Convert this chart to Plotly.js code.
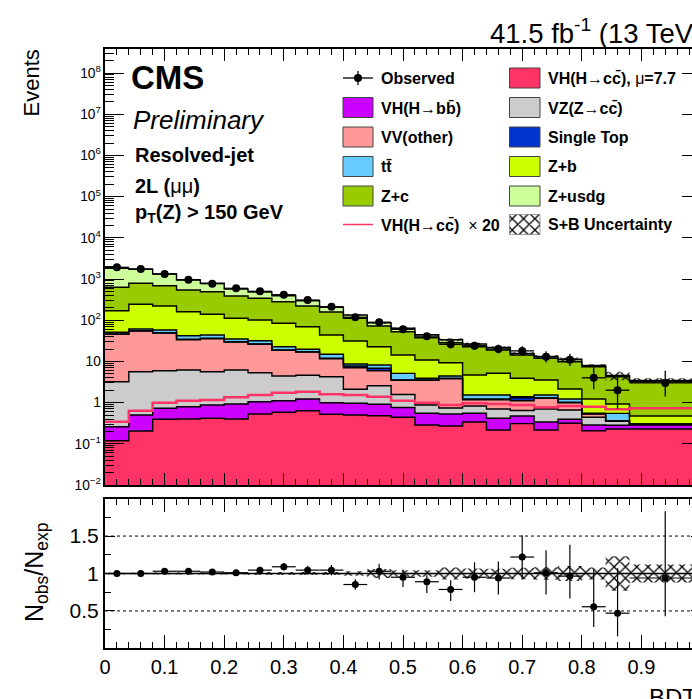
<!DOCTYPE html>
<html><head><meta charset="utf-8">
<script src="https://cdn.plot.ly/plotly-3.0.1.min.js"></script>
<style>html,body{margin:0;padding:0;overflow:hidden;background:#fff;width:692px;height:699px}
#chart{width:720px;height:699px}</style>
</head><body><div id="chart"></div>
<script>
// ---------------- data ----------------
const binEdges = [0,0.04,0.08,0.12,0.16,0.20,0.24,0.28,0.32,0.36,0.40,0.44,0.48,0.52,0.56,0.60,0.64,0.68,0.72,0.76,0.80,0.84,0.88,1.00];
const VHcc   = [0.119,0.205,0.393,0.400,0.416,0.400,0.529,0.582,0.636,0.520,0.500,0.481,0.440,0.286,0.270,0.338,0.216,0.308,0.216,0.315,0.208,0.229,0.229];
const VHbb   = [0.141,0.296,0.334,0.395,0.458,0.525,0.522,0.530,0.587,0.475,0.462,0.428,0.321,0.264,0.259,0.212,0.200,0.166,0.122,0.078,0.078,0.052,0.057];
const VZcc   = [2.96,5.12,5.22,5.39,4.75,5.26,4.27,3.31,3.38,3.26,1.14,1.66,0.812,0.324,0.210,0.277,0.283,0.170,0.361,0.268,0.154,0.070,0.011];
const VVother= [42.3,49.1,42.95,27.45,29.94,23.4,20.7,14.18,12.31,7.38,4.93,3.38,1.905,2.604,3.06,0.349,0.477,0.469,0.573,0.334,0.086,0.008,0.002];
const singleTop=[0.8,0.9,0.8,0.76,0.81,0.5,0.45,0.31,0.28,0.26,0.70,0.85,0.058,0.058,0.086,0.047,0.047,0.203,0.021,0.022,0.009,0.004,0.002];
const ttbar  = [4.5,5.5,8.1,7.67,7.37,4.89,5.35,3.83,2.48,2.98,0.92,1.38,1.60,0.353,0.53,0.306,0.306,0.076,0.236,0.206,0.015,0.186,0.002];
const Zb     = [119.2,182.0,163.3,118.7,95.4,76.2,69.3,61.4,49.9,28.87,22.6,14.56,9.16,6.92,4.88,3.147,3.61,2.50,2.007,0.915,0.673,0.375,0.17];
const Zc     = [459,543,467,380,352,275,239,197,151.5,114.4,79.9,49.6,38.3,26.8,19.14,18.06,13.77,10.41,8.35,7.69,6.22,3.33,2.74];
const Zusdg  = [1189,933,634,405,295,185,143,112,76.3,47.5,22.5,14.66,11.0,6.88,5.19,3.71,2.84,1.25,1.26,1.42,0.51,0.30,0.26];
const VHccX20= [0.344,0.636,0.995,1.112,1.157,1.345,1.529,1.739,1.839,1.590,1.529,1.391,1.112,0.995,0.874,0.962,0.925,0.874,0.769,0.827,0.795,0.688,0.727];
const observed=[1923,1748,1322,962,769,595,503,416,309,213,118,89,60,41,26,24,20,18,13,11,4,2,3];
const obsErrUp=[44,42,37,32,28,25,23,21,18,15,11,9.9,8.8,7.5,6.2,6.0,5.6,5.3,4.7,4.4,3.2,2.6,2.9];
const obsErrDn=[44,42,36,31,28,24,22,20,18,15,11,9.4,7.7,6.4,5.1,4.9,4.4,4.2,3.6,3.3,1.9,1.3,1.6];
const ratio   =[1.00,1.00,1.03,1.03,1.02,1.01,1.045,1.09,1.045,1.045,0.853,1.03,0.95,0.89,0.787,0.95,0.94,1.22,1.01,0.965,0.556,0.47,0.94];
const ratioErrUp=[0.02,0.025,0.03,0.035,0.035,0.04,0.045,0.05,0.06,0.07,0.07,0.10,0.10,0.085,0.124,0.20,0.22,0.29,0.30,0.42,0.50,0.60,0.89];
const ratioErrDn=[0.02,0.025,0.03,0.035,0.035,0.04,0.045,0.05,0.06,0.07,0.07,0.11,0.13,0.15,0.155,0.20,0.22,0.30,0.29,0.30,0.27,0.31,0.51];
const relUnc  =[0.01,0.01,0.015,0.015,0.015,0.015,0.02,0.02,0.02,0.02,0.03,0.06,0.045,0.045,0.08,0.067,0.065,0.078,0.085,0.10,0.08,0.23,0.12];
const xTickVals=[0,0.1,0.2,0.3,0.4,0.5,0.6,0.7,0.8,0.9];
const xTickText=['0','0.1','0.2','0.3','0.4','0.5','0.6','0.7','0.8','0.9'];

const compNames = ['VH(H→cc̄), μ=7.7','VH(H→bb̄)','VZ(Z→cc̄)','VV(other)','Single Top','tt̄','Z+b','Z+c','Z+usdg'];
const compData  = [VHcc,VHbb,VZcc,VVother,singleTop,ttbar,Zb,Zc,Zusdg];
const compColors= ['#FF3366','#CC00FF','#CCCCCC','#FF9999','#0033CC','#66CCFF','#CCFF00','#99CC00','#CCFF99'];

// ---------------- geometry ----------------
const W=720,H=699,ML=105,MR=19,MT=49,MB=51;
const PW=W-ML-MR, PH=H-MT-MB;
const px = x => (x-ML)/PW;
const py = y => (H-MB-y)/PH;
const FONT = 'Liberation Sans, Arial, Helvetica, sans-serif';
const HATCH = {shape:'x',fgcolor:'#000',bgcolor:'rgba(0,0,0,0)',size:8,solidity:0.3};

const step = a => a.concat([a[a.length-1]]);
const centers = binEdges.slice(0,-1).map((e,i)=>(e+binEdges[i+1])/2);
const halfW = binEdges.slice(0,-1).map((e,i)=>(binEdges[i+1]-e)/2);

const traces=[];
traces.push({x:binEdges,y:step(VHcc.map(()=>1e-4)),mode:'lines',line:{width:0,shape:'hv'},xaxis:'x',yaxis:'y',hoverinfo:'skip',showlegend:false});
let cum = VHcc.map(()=>0);
const cums=[];
compData.forEach((c,k)=>{
  cum = cum.map((v,i)=>v+c[i]);
  cums.push(cum.slice());
  traces.push({x:binEdges,y:step(cum),mode:'lines',line:{width:0,shape:'hv'},fill:'tonexty',fillcolor:compColors[k],
    name:compNames[k],xaxis:'x',yaxis:'y',hoverinfo:'skip',showlegend:false});
});
cums.forEach(c=>{
  traces.push({x:binEdges,y:step(c),mode:'lines',line:{width:1.4,color:'#000',shape:'hv'},xaxis:'x',yaxis:'y',hoverinfo:'skip',showlegend:false});
});
const total = cums[cums.length-1];
traces.push({x:binEdges,y:step(VHccX20),mode:'lines',line:{width:2.6,color:'#FF3366',shape:'hv'},xaxis:'x',yaxis:'y',showlegend:false});
traces.push({x:binEdges,y:step(total.map((t,i)=>t*(1-relUnc[i]))),mode:'lines',line:{width:0,shape:'hv'},xaxis:'x',yaxis:'y',showlegend:false,hoverinfo:'skip'});
traces.push({x:binEdges,y:step(total.map((t,i)=>t*(1+relUnc[i]))),mode:'lines',line:{width:0,shape:'hv'},fill:'tonexty',fillcolor:'rgba(0,0,0,0)',
  fillpattern:HATCH,xaxis:'x',yaxis:'y',showlegend:false,hoverinfo:'skip'});
traces.push({x:centers,y:observed,mode:'markers',marker:{size:8,color:'#000'},
  error_y:{type:'data',symmetric:false,array:obsErrUp,arrayminus:obsErrDn,thickness:1.3,width:0,color:'#000'},
  error_x:{type:'data',array:halfW,thickness:1.3,width:0,color:'#000'},xaxis:'x',yaxis:'y',showlegend:false});

traces.push({x:binEdges,y:step(relUnc.map(u=>1-u)),mode:'lines',line:{width:0,shape:'hv'},xaxis:'x2',yaxis:'y2',showlegend:false,hoverinfo:'skip'});
traces.push({x:binEdges,y:step(relUnc.map(u=>1+u)),mode:'lines',line:{width:0,shape:'hv'},fill:'tonexty',fillcolor:'rgba(0,0,0,0)',
  fillpattern:HATCH,xaxis:'x2',yaxis:'y2',showlegend:false,hoverinfo:'skip'});
traces.push({x:centers,y:ratio,mode:'markers',marker:{size:7,color:'#000'},
  error_y:{type:'data',symmetric:false,array:ratioErrUp,arrayminus:ratioErrDn,thickness:1.2,width:0,color:'#000'},
  error_x:{type:'data',array:halfW,thickness:1.2,width:0,color:'#000'},xaxis:'x2',yaxis:'y2',showlegend:false});

const lgRows=[78,107.5,137,166.5,196,224.5];
const c1x0=343,c1x1=373,c2x0=509.5,c2x1=540,boxH=20;
traces.push({x:[c2x0,c2x1,c2x1,c2x0,c2x0],y:[lgRows[5]-boxH/2,lgRows[5]-boxH/2,lgRows[5]+boxH/2,lgRows[5]+boxH/2,lgRows[5]-boxH/2],
  mode:'lines',line:{width:0.6,color:'#666'},fill:'toself',fillcolor:'rgba(0,0,0,0)',
  fillpattern:HATCH,xaxis:'x3',yaxis:'y3',showlegend:false,hoverinfo:'skip'});

// ---------------- legend & text ----------------
const shapes=[], ann=[];
const boxShape=(x0,x1,yc,color)=>shapes.push({type:'rect',xref:'paper',yref:'paper',x0:px(x0),x1:px(x1),y0:py(yc+boxH/2),y1:py(yc-boxH/2),
  fillcolor:color,line:{color:'#444',width:1}});
const lgText=(x,yc,t)=>ann.push({xref:'paper',yref:'paper',x:px(x),y:py(yc),xanchor:'left',yanchor:'middle',text:t,showarrow:false,
  font:{family:FONT,size:16,color:'#000'}});
shapes.push({type:'line',xref:'paper',yref:'paper',x0:px(c1x0),x1:px(c1x1),y0:py(lgRows[0]),y1:py(lgRows[0]),line:{color:'#000',width:1.3}});
shapes.push({type:'line',xref:'paper',yref:'paper',x0:px(358),x1:px(358),y0:py(lgRows[0]-7),y1:py(lgRows[0]+7),line:{color:'#000',width:1.3}});
shapes.push({type:'circle',xref:'paper',yref:'paper',x0:px(354),x1:px(362),y0:py(lgRows[0]+4),y1:py(lgRows[0]-4),fillcolor:'#000',line:{width:0}});
lgText(379,lgRows[0],'<b>Observed</b>');
boxShape(c1x0,c1x1,lgRows[1],compColors[1]); lgText(379,lgRows[1],'<b>VH(H→bb\u0304)</b>');
boxShape(c1x0,c1x1,lgRows[2],compColors[3]); lgText(379,lgRows[2],'<b>VV(other)</b>');
boxShape(c1x0,c1x1,lgRows[3],compColors[5]); lgText(379,lgRows[3],'<b>tt\u0304</b>');
boxShape(c1x0,c1x1,lgRows[4],compColors[7]); lgText(379,lgRows[4],'<b>Z+c</b>');
shapes.push({type:'line',xref:'paper',yref:'paper',x0:px(c1x0),x1:px(c1x1),y0:py(lgRows[5]),y1:py(lgRows[5]),line:{color:'#FF3366',width:1.5}});
lgText(379,lgRows[5],'<b>VH(H→cc\u0304)</b>  × <b>20</b>');
boxShape(c2x0,c2x1,lgRows[0],compColors[0]); lgText(546,lgRows[0],'<b>VH(H→cc\u0304), </b>μ<b>=7.7</b>');
boxShape(c2x0,c2x1,lgRows[1],compColors[2]); lgText(546,lgRows[1],'<b>VZ(Z→cc\u0304)</b>');
boxShape(c2x0,c2x1,lgRows[2],compColors[4]); lgText(546,lgRows[2],'<b>Single Top</b>');
boxShape(c2x0,c2x1,lgRows[3],compColors[6]); lgText(546,lgRows[3],'<b>Z+b</b>');
boxShape(c2x0,c2x1,lgRows[4],compColors[8]); lgText(546,lgRows[4],'<b>Z+usdg</b>');
lgText(546,lgRows[5],'<b>S+B Uncertainty</b>');

const txt=(x,y,t,size,anchor)=>ann.push({xref:'paper',yref:'paper',x:px(x),y:py(y),xanchor:anchor||'left',yanchor:'middle',
  text:t,showarrow:false,font:{family:FONT,size:size,color:'#000'}});
txt(129,77,'<b>CMS</b>',33);
txt(131,120,'<i>Preliminary</i>',26);
txt(133,155.5,'<b>Resolved-jet</b>',20);
txt(133,185.5,'<b>2L (</b>μμ<b>)</b>',20);
txt(133,213,'<b>p<sub>T</sub>(Z) &gt; 150 GeV</b>',20);
txt(488,32,'41.5 fb<sup>-1</sup> (13 TeV)',27.5);
ann.push({xref:'paper',yref:'paper',x:px(31),y:py(48),xanchor:'center',yanchor:'top',text:'Events',textangle:-90,showarrow:false,
  font:{family:FONT,size:22,color:'#000'}});
ann.push({xref:'paper',yref:'paper',x:px(36),y:py(572),xanchor:'center',yanchor:'middle',text:'N<sub>obs</sub>/N<sub>exp</sub>',textangle:-90,showarrow:false,
  font:{family:FONT,size:25,color:'#000'}});
ann.push({xref:'paper',yref:'paper',x:px(647),y:py(682),xanchor:'left',yanchor:'top',text:'BDT',showarrow:false,
  font:{family:FONT,size:24,color:'#000'}});

shapes.push({type:'line',xref:'x2 domain',yref:'y2',x0:0,x1:1,y0:1.5,y1:1.5,line:{color:'#000',width:1,dash:'dot'}});
shapes.push({type:'line',xref:'x2 domain',yref:'y2',x0:0,x1:1,y0:0.5,y1:0.5,line:{color:'#000',width:1,dash:'dot'}});
shapes.push({type:'line',xref:'x2 domain',yref:'y2',x0:0,x1:1,y0:1,y1:1,line:{color:'#000',width:1.6},layer:'below'});

const mainBottom = py(485), ratioTop = py(499);
const axCommon={showline:true,linecolor:'#000',linewidth:2,mirror:'allticks',ticks:'inside',tickcolor:'#000',tickwidth:1,showgrid:false,zeroline:false};
const layout={
  width:W,height:H,margin:{l:ML,r:MR,t:MT,b:MB},paper_bgcolor:'#fff',plot_bgcolor:'rgba(0,0,0,0)',showlegend:false,
  font:{family:FONT,color:'#000'},
  xaxis:Object.assign({},axCommon,{domain:[0,1],anchor:'y',range:[0,1],dtick:0.1,tick0:0,ticklen:12,showticklabels:false,
    minor:{dtick:0.02,ticks:'inside',ticklen:6,tickcolor:'#000',showgrid:false}}),
  yaxis:Object.assign({},axCommon,{domain:[mainBottom,1],anchor:'x',type:'log',range:[-2,8.583],dtick:1,exponentformat:'power',ticklen:19,
    tickfont:{family:FONT,size:11},minor:{dtick:'D1',ticks:'inside',ticklen:9,tickcolor:'#000',showgrid:false}}),
  xaxis2:Object.assign({},axCommon,{domain:[0,1],anchor:'y2',range:[0,1],tickmode:'array',tickvals:xTickVals,ticktext:xTickText,ticklen:13,
    tickfont:{family:FONT,size:20},minor:{dtick:0.02,ticks:'inside',ticklen:6,tickcolor:'#000',showgrid:false}}),
  yaxis2:Object.assign({},axCommon,{domain:[0,ratioTop],anchor:'x2',range:[0.005,1.995],dtick:0.5,tick0:0,ticklen:10,tickfont:{family:FONT,size:21},
    minor:{dtick:0.25,ticks:'inside',ticklen:6,tickcolor:'#000',showgrid:false}}),
  xaxis3:{domain:[0,1],anchor:'y3',range:[ML,W-MR],visible:false},
  yaxis3:{domain:[0,1],anchor:'x3',range:[H-MB,MT],visible:false},
  shapes:shapes,annotations:ann
};
Plotly.newPlot('chart',traces,layout,{staticPlot:true,displayModeBar:false});
</script></body></html>
